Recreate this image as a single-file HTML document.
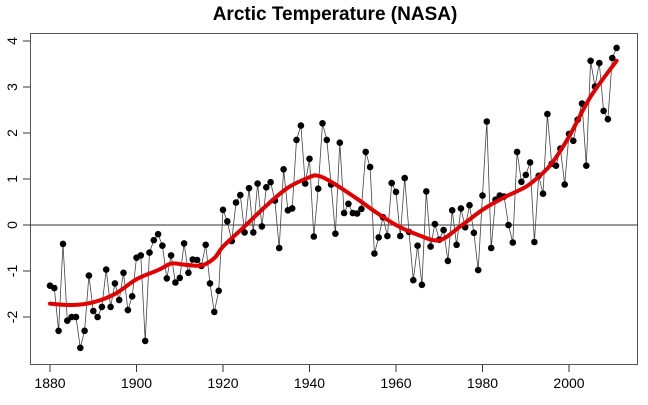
<!DOCTYPE html>
<html><head><meta charset="utf-8"><style>
html,body{margin:0;padding:0;background:#fff;}
svg{display:block;font-family:"Liberation Sans",Arial,sans-serif;}
</style></head><body>
<svg id="s" width="648" height="405" xmlns="http://www.w3.org/2000/svg">
<text x="335" y="20" text-anchor="middle" font-size="19" font-weight="bold">Arctic Temperature (NASA)</text>
<rect x="30.5" y="33.5" width="607" height="331" fill="none" stroke="#555" stroke-width="1"/>
<line x1="30" y1="225" x2="638" y2="225" stroke="#333" stroke-width="1"/>
<g id="g"></g>
</svg>
<script>
var v=[-1.32,-1.37,-2.30,-0.41,-2.08,-2.0,-2.0,-2.67,-2.3,-1.10,-1.87,-2.0,-1.78,-0.97,-1.78,-1.27,-1.63,-1.04,-1.85,-1.55,
-0.71,-0.66,-2.52,-0.6,-0.33,-0.2,-0.45,-1.16,-0.66,-1.25,-1.15,-0.40,-1.04,-0.75,-0.76,-0.89,-0.43,-1.27,-1.89,-1.43,
0.33,0.08,-0.35,0.49,0.65,-0.16,0.80,-0.16,0.90,-0.03,0.82,0.93,0.53,-0.5,1.21,0.32,0.36,1.85,2.16,0.90,
1.44,-0.25,0.79,2.21,1.85,0.88,-0.19,1.79,0.26,0.46,0.26,0.25,0.35,1.59,1.26,-0.62,-0.27,0.17,-0.24,0.91,
0.72,-0.24,1.02,-0.15,-1.20,-0.45,-1.30,0.73,-0.47,0.02,-0.32,-0.11,-0.78,0.32,-0.43,0.36,-0.05,0.43,-0.17,-0.98,
0.64,2.25,-0.50,0.55,0.64,0.62,0.0,-0.38,1.59,0.94,1.09,1.36,-0.37,1.07,0.68,2.41,1.33,1.29,1.66,0.88,
1.98,1.83,2.29,2.64,1.29,3.57,3.01,3.52,2.48,2.30,3.63,3.85];
var sm=[[1880,-1.71],[1885,-1.74],[1890,-1.68],[1895,-1.50],[1900,-1.18],[1905,-0.98],[1908,-0.84],[1911,-0.86],[1915,-0.88],[1918,-0.72],[1920,-0.47],[1925,-0.03],[1930,0.42],[1935,0.81],[1940,1.04],[1942,1.07],[1945,0.94],[1951,0.57],[1955,0.30],[1960,0.0],[1965,-0.21],[1970,-0.33],[1975,-0.02],[1980,0.33],[1985,0.60],[1990,0.83],[1993,1.05],[1996,1.34],[2000,1.92],[2005,2.79],[2011,3.57]];
function X(y){return 50+(y-1880)*4.325;}function Y(t){return 225-t*46;}
var h='',p='';
v.forEach(function(t,i){p+=(i?'L':'M')+X(1880+i).toFixed(1)+' '+Y(t).toFixed(1);});
h+='<path d="'+p+'" fill="none" stroke="#444" stroke-width="0.8"/>';
v.forEach(function(t,i){h+='<circle cx="'+X(1880+i).toFixed(1)+'" cy="'+Y(t).toFixed(1)+'" r="3.3" fill="#000"/>';});
// smooth via catmull-rom
var q='M'+X(sm[0][0])+' '+Y(sm[0][1]);
for(var i=0;i<sm.length-1;i++){var p0=sm[Math.max(0,i-1)],p1=sm[i],p2=sm[i+1],p3=sm[Math.min(sm.length-1,i+2)];
var a=[X(p1[0])+(X(p2[0])-X(p0[0]))/6,Y(p1[1])+(Y(p2[1])-Y(p0[1]))/6],b=[X(p2[0])-(X(p3[0])-X(p1[0]))/6,Y(p2[1])-(Y(p3[1])-Y(p1[1]))/6];
q+='C'+a[0].toFixed(1)+' '+a[1].toFixed(1)+' '+b[0].toFixed(1)+' '+b[1].toFixed(1)+' '+X(p2[0]).toFixed(1)+' '+Y(p2[1]).toFixed(1);}
h+='<path d="'+q+'" fill="none" stroke="#e00000" stroke-width="4" stroke-linecap="round"/>';
for(var yr=1880;yr<=2000;yr+=20){var x=X(yr);h+='<line x1="'+x+'" y1="365" x2="'+x+'" y2="372" stroke="#333"/><text x="'+x+'" y="388" text-anchor="middle" font-size="14">'+yr+'</text>';}
for(var k=-2;k<=4;k++){var y=Y(k);h+='<line x1="23" y1="'+y+'" x2="30" y2="'+y+'" stroke="#333"/><text transform="translate(17,'+y+') rotate(-90)" text-anchor="middle" font-size="14">'+k+'</text>';}
document.getElementById('g').innerHTML=h;
</script>
</body></html>
